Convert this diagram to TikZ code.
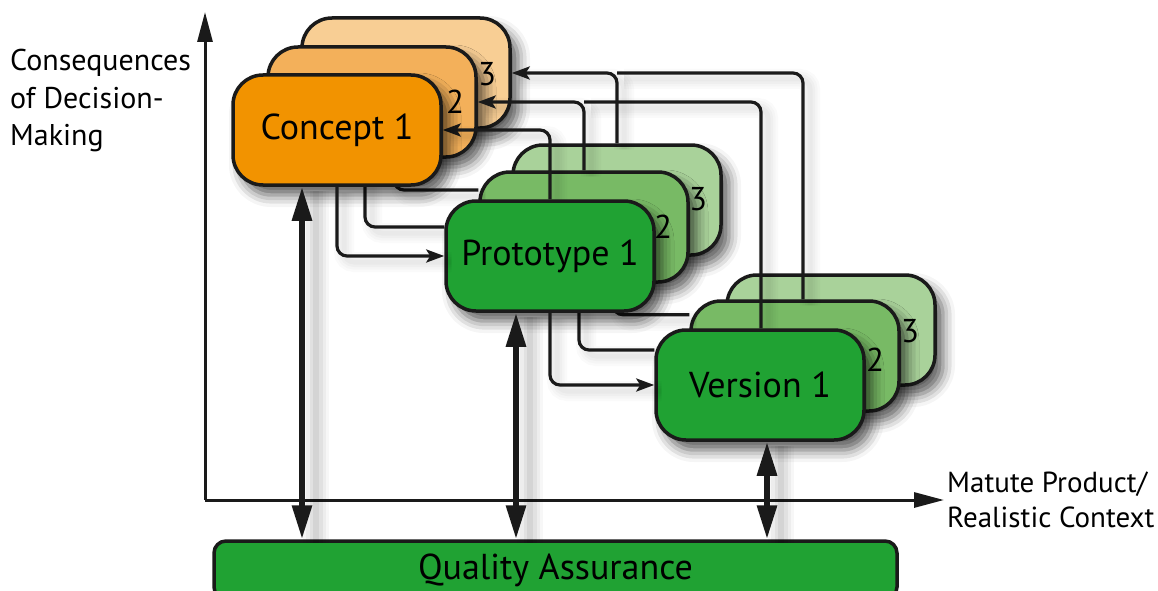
\documentclass[tikz,border=0pt]{standalone}
\usepackage{fontspec}
\setmainfont{PT Sans}
\usetikzlibrary{arrows.meta,calc,shadows.blur}

\definecolor{ink}{HTML}{1A1A1A}
\definecolor{orA}{HTML}{F29300}
\definecolor{orB}{HTML}{F3B05A}
\definecolor{orC}{HTML}{F8CE94}
\definecolor{grA}{HTML}{20A233}
\definecolor{grB}{HTML}{78BA65}
\definecolor{grC}{HTML}{A9D29A}

\pgfdeclarelayer{backstage}
\pgfdeclarelayer{links}
\pgfsetlayers{backstage,links,main}

\begin{document}
\begin{tikzpicture}[x=1pt,y=-1pt,
  stage/.style={draw=ink,line width=3.5pt,rounded corners=30pt,
    minimum width=208pt,minimum height=110pt,inner sep=0pt,
    font=\fontsize{36}{40}\selectfont},
  soft/.style={blur shadow={shadow xshift=8pt,shadow yshift=-10pt,
    shadow blur radius=12pt,shadow opacity=65}},
  num/.style={font=\fontsize{33}{36}\selectfont,inner sep=0pt},
  haze/.style n args={3}{preaction={draw=black,opacity=#3,line width=#1,-,
      transform canvas={shift={#2}}}},
  link/.style={draw=ink,line width=3.2pt,rounded corners=10pt,
    >={Stealth[length=18pt,width=13pt,inset=4pt]},
    haze={20pt}{(7pt,-6pt)}{0.02},haze={15pt}{(7pt,-6pt)}{0.02},
    haze={10pt}{(7pt,-6pt)}{0.025},haze={5pt}{(7pt,-6pt)}{0.025}},
  axis/.style={draw=ink,line width=3pt,-{Triangle[length=30pt,width=15pt]}},
  qalink/.style={draw=ink,line width=6pt,
    {Triangle[length=34pt,width=19pt]}-{Triangle[length=34pt,width=19pt]},
    haze={26pt}{(14pt,-4pt)}{0.03},haze={20pt}{(14pt,-4pt)}{0.04},
    haze={13pt}{(14pt,-4pt)}{0.05},haze={6pt}{(14pt,-4pt)}{0.06}},
  caption/.style={align=left,inner sep=0pt,anchor=north west}
]
\useasboundingbox (0,0) rectangle (1158,591);
\clip (0,0) rectangle (1158,591);

% axes
\coordinate (o) at (205,500);
\coordinate (ytip) at (205,12);
\coordinate (xtip) at (944,500);
\draw[axis] (o) -- (ytip);
\draw[axis] (o) -- (xtip);

\node[caption,font=\fontsize{30}{37.5}\selectfont] (ylab) at (10,49)
  {Consequences\\of Decision-\\Making};
\node[caption,font=\fontsize{29}{35}\selectfont] (xlab) at (947,472)
  {Matute Product/\\Realistic Context};

% front stages
\node[stage,fill=orA,soft] (c1) at (337,130) {Concept 1};
\node[stage,fill=grA,soft] (p1) at (550,256) {Prototype 1};
\node[stage,fill=grA,soft] (v1) at (760,385) {Version 1};

% back copies of every stage
\begin{pgfonlayer}{backstage}
\node[stage,fill=orC,soft] (c3) at (406,73) {};
\node[stage,fill=orB,soft] (c2) at (372,102) {};
\node[stage,fill=grC,soft] (p3) at (617,200) {};
\node[stage,fill=grB,soft] (p2) at (584,227) {};
\node[stage,fill=grC,soft] (v3) at (831,330) {};
\node[stage,fill=grB,soft] (v2) at (795,356) {};
\end{pgfonlayer}

\begin{pgfonlayer}{links}
% forward links: concept -> prototype
\draw[link] ([xshift=-12pt]c3.south) |- ($(p2.west |- p3.center)+(0,-10)$);
\draw[link] ([xshift=-7pt]c2.south) |- (p1.west |- p2.center);
% forward links: prototype -> version
\draw[link] ([xshift=-4pt]p3.south) |- ($(v2.west |- p1.south)+(0,2)$);
\draw[link] ([xshift=-5pt]p2.south) |- ($(v1.west |- v2.center)+(0,-6)$);
% feedback links back to the concepts
\draw[link] ([xshift=1pt]v1.north) |- (p2.north |- c2.east);
\draw[link] ([xshift=8pt]v2.north) |- (p3.north |- c3.east);
\draw[link,->] (p3.north) |- (c3.east);
\draw[link,->] (p2.north) |- (c2.east);
\draw[link,->] (p1.north) |- (c1.east);
\end{pgfonlayer}

\draw[link,->] (c1.south) |- (p1.west);
\draw[link,->] (p1.south) |- (v1.west);

% iteration numbers
\node[num] (c2n) at (455,102) {2};
\node[num] (c3n) at (487,74) {3};
\node[num] (p2n) at (663,227) {2};
\node[num] (p3n) at (698,199) {3};
\node[num] (v2n) at (875,360) {2};
\node[num] (v3n) at (910,331) {3};

% quality assurance
\node[draw=ink,line width=3.5pt,fill=grA,rounded corners=12pt,
  minimum width=683pt,minimum height=58pt,inner sep=0pt,
  font=\fontsize{36}{40}\selectfont] (qa) at (555.5,570) {Quality Assurance};

\draw[qalink] ([xshift=-35pt]c1.south) -- ([xshift=-35pt]c1.south |- qa.north);
\draw[qalink] ([xshift=-34pt]p1.south) -- ([xshift=-34pt]p1.south |- qa.north);
\draw[qalink] ([xshift=7pt]v1.south) -- ([xshift=7pt]v1.south |- qa.north);
\end{tikzpicture}
\end{document}
